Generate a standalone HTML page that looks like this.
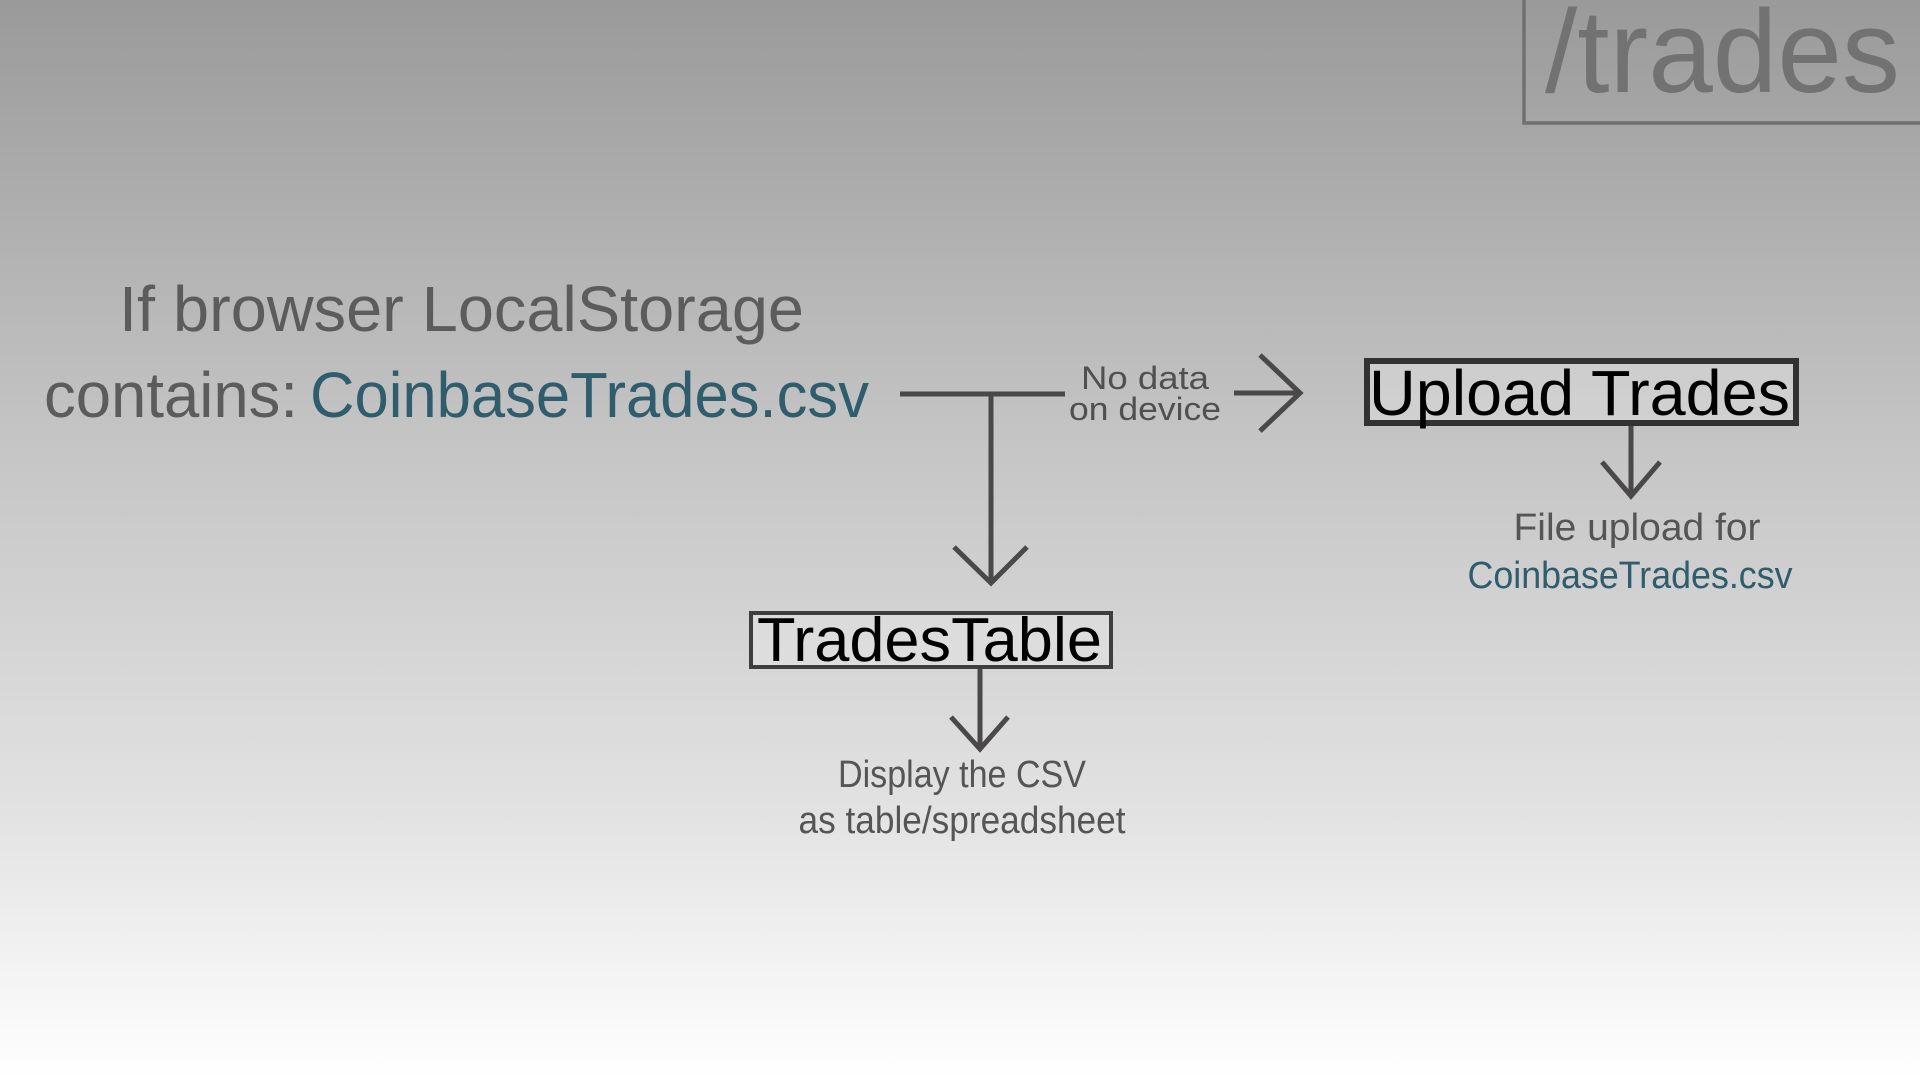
<!DOCTYPE html>
<html><head><meta charset="utf-8"><style>
html,body{margin:0;padding:0;width:1920px;height:1080px;overflow:hidden}
body{background:linear-gradient(to bottom,#9a9a9a 0%,#c4c4c4 40%,#e2e2e2 75%,#ffffff 100%)}
svg{position:absolute;left:0;top:0}
text{font-family:"Liberation Sans",sans-serif}
</style></head><body>
<svg width="1920" height="1080" viewBox="0 0 1920 1080">
<rect x="1524" y="-10" width="420" height="133" fill="none" stroke="#707070" stroke-width="3.5"/>
<text x="1545" y="92" font-size="118" fill="#727272" textLength="355" lengthAdjust="spacingAndGlyphs">/trades</text>

<text x="119" y="331" font-size="64" fill="#5c5c5c" textLength="685" lengthAdjust="spacingAndGlyphs">If browser LocalStorage</text>
<text x="44" y="417" font-size="64" fill="#5c5c5c" textLength="254" lengthAdjust="spacingAndGlyphs">contains:</text>
<text x="310" y="417" font-size="64" fill="#2f5d6e" textLength="559" lengthAdjust="spacingAndGlyphs">CoinbaseTrades.csv</text>

<g stroke="#4a4848" stroke-width="5" fill="none">
<line x1="900" y1="394" x2="1065" y2="394"/>
<line x1="991" y1="394" x2="991" y2="583"/>
<polyline points="954,547 991,583 1027,547"/>
<line x1="1234" y1="393" x2="1300" y2="393"/>
<polyline points="1260,355 1300,393 1260,431"/>
<line x1="1631" y1="425" x2="1631" y2="496"/>
<polyline points="1602,462 1631,496 1660,462"/>
<line x1="980" y1="669" x2="980" y2="749"/>
<polyline points="951,717 980,749 1008,717"/>
</g>

<text x="1145" y="389" font-size="32" fill="#505050" text-anchor="middle" textLength="128" lengthAdjust="spacingAndGlyphs">No data</text>
<text x="1145" y="420" font-size="32" fill="#505050" text-anchor="middle" textLength="152" lengthAdjust="spacingAndGlyphs">on device</text>

<rect x="1367" y="361" width="429" height="62" fill="#e6e6e6" fill-opacity="0.4" stroke="#333131" stroke-width="6"/>
<text x="1369" y="415" font-size="64" fill="#000" textLength="421" lengthAdjust="spacingAndGlyphs">Upload Trades</text>

<text x="1637" y="540" font-size="38" fill="#555" text-anchor="middle" textLength="247" lengthAdjust="spacingAndGlyphs">File upload for</text>
<text x="1630" y="588" font-size="38" fill="#2f5d6e" text-anchor="middle" textLength="325" lengthAdjust="spacingAndGlyphs">CoinbaseTrades.csv</text>

<rect x="751" y="613" width="360" height="54" fill="#e8e8e8" fill-opacity="0.4" stroke="#3f3d3d" stroke-width="4"/>
<text x="757" y="661" font-size="62" fill="#000" textLength="345" lengthAdjust="spacingAndGlyphs">TradesTable</text>

<text x="962" y="787" font-size="38" fill="#555" text-anchor="middle" textLength="248" lengthAdjust="spacingAndGlyphs">Display the CSV</text>
<text x="962" y="833" font-size="38" fill="#555" text-anchor="middle" textLength="327" lengthAdjust="spacingAndGlyphs">as table/spreadsheet</text>
</svg>
</body></html>
